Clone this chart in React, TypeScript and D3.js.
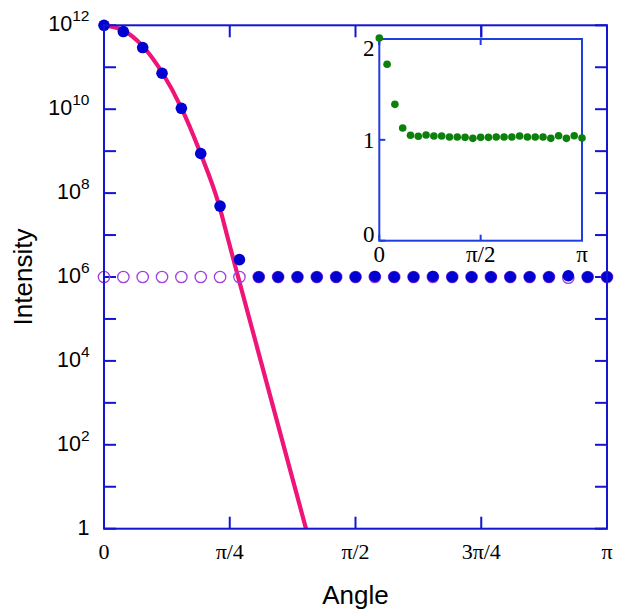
import React from "react";
import * as d3 from "d3";

// ---- data ----
const angleIndex = [0,1,2,3,4,5,6,7,8,9,10,11,12,13,14,15,16,17,18,19,20,21,22,23,24,25,26];
const angleStep = Math.PI / 26;

// measured intensity (filled blue)
const measured = [1e12, 7.1e11, 2.95e11, 7.2e10, 1.05e10, 8.8e8, 4.9e7, 2.6e6, 1.0e6, 1.0e6, 1.0e6,
  1.0e6, 1.0e6, 1.0e6, 1.03e6, 1.0e6, 1.0e6, 1.03e6, 1.0e6, 1.0e6, 1.0e6, 1.0e6, 1.0e6, 1.0e6,
  1.07e6, 1.0e6, 1.0e6];
// background (open circles)
const background = [1e6, 1e6, 1e6, 1e6, 1e6, 1e6, 1e6, 1e6, 1e6, 1e6, 1e6, 1e6, 1e6, 1e6, 1e6, 1e6,
  1e6, 1e6, 1e6, 1e6, 1e6, 1e6, 1e6, 1e6, 0.96e6, 1e6, 1e6];
// model curve (angle in rad, intensity)
const curveAngles = [0, 0.1205, 0.2417, 0.3623, 0.4809, 0.5996, 0.7183, 0.7763, 1.2617, 1.30];
const curveValues = [1e12, 7.6e11, 3.2e11, 7.6e10, 1.12e10, 9.5e8, 5.2e7, 7.6e6, 1, 0.3];
// inset ratio
const ratio = [2.01, 1.749, 1.352, 1.117, 1.045, 1.035, 1.048, 1.038, 1.038, 1.028, 1.028, 1.025,
  1.015, 1.025, 1.025, 1.028, 1.028, 1.028, 1.038, 1.028, 1.028, 1.028, 1.015, 1.041, 1.015, 1.041, 1.018];

const xTicks = [0, Math.PI / 4, Math.PI / 2, (3 * Math.PI) / 4, Math.PI];
const xTickLabels = ["0", "π/4", "π/2", "3π/4", "π"];
const yMajorExp = [0, 2, 4, 6, 8, 10, 12];
const yAllExp = [0, 1, 2, 3, 4, 5, 6, 7, 8, 9, 10, 11, 12];
const insetXTicks = [0, Math.PI / 2, Math.PI];
const insetXLabels = ["0", "π/2", "π"];
const insetYTicks = [0, 1, 2];

const AXIS = "#1414d2";
const INSET_AXIS = "#1e3ee0";
const PINK = "#ee1478";
const BLUE = "#0000d0";
const PURPLE = "#a040e0";
const GREEN = "#0b800b";

export default function App() {
  const L = 104, R = 607, T = 25.3, B = 528.7;
  const x = d3.scaleLinear().domain([0, Math.PI]).range([L, R]);
  const y = d3.scaleLog().domain([1, 1e12]).range([B, T]);

  const iL = 379.3, iR = 582, iT = 39, iB = 240.7;
  const xi = d3.scaleLinear().domain([0, Math.PI]).range([iL, iR]);
  const yi = d3.scaleLinear().domain([0, 2]).range([iB, iT]);

  const curvePts = curveAngles.map((a, i) => [a, curveValues[i]] as [number, number]);
  const line = d3
    .line<[number, number]>()
    .x((d) => x(d[0]))
    .y((d) => y(d[1]))
    .curve(d3.curveMonotoneX);

  const angles = angleIndex.map((i) => i * angleStep);
  const sans = "'Liberation Sans', Arial, Helvetica, sans-serif";
  const serif = "'Liberation Serif', 'Times New Roman', serif";
  const tick = 12;
  const insetLabelDy = [1, 8.5, 17];

  return (
    <svg width={617} height={609} style={{ position: "absolute", left: 0, top: 0 }}>
      <defs>
        <clipPath id="plotclip">
          <rect x={L} y={T - 10} width={R - L + 10} height={B - T + 10} />
        </clipPath>
      </defs>
      <rect x={0} y={0} width={617} height={609} fill="#fff" />

      {/* main ticks */}
      {yAllExp.map((e) => (
        <g key={"yt" + e}>
          <line x1={L} x2={L + tick} y1={y(Math.pow(10, e))} y2={y(Math.pow(10, e))} stroke={AXIS} strokeWidth={2} />
          <line x1={R} x2={R - tick} y1={y(Math.pow(10, e))} y2={y(Math.pow(10, e))} stroke={AXIS} strokeWidth={2} />
        </g>
      ))}
      {xTicks.map((t, i) => (
        <g key={"xt" + i}>
          <line x1={x(t)} x2={x(t)} y1={B} y2={B - tick} stroke={AXIS} strokeWidth={2} />
          <line x1={x(t)} x2={x(t)} y1={T} y2={T + tick} stroke={AXIS} strokeWidth={2} />
        </g>
      ))}

      {/* curve */}
      <path d={line(curvePts) || ""} fill="none" stroke={PINK} strokeWidth={4.2} clipPath="url(#plotclip)" />

      {/* background open circles */}
      {angles.map((a, i) => (
        <circle key={"bg" + i} cx={x(a)} cy={y(background[i])} r={5.7} fill="none" stroke={PURPLE} strokeWidth={1.3} />
      ))}
      {/* measured */}
      {angles.map((a, i) =>
        i === 0 || measured[i] > 1.5e6 || i >= 8 ? (
          <circle key={"m" + i} cx={x(a)} cy={y(measured[i])} r={5.8} fill={BLUE} />
        ) : null
      )}

      {/* frame */}
      <rect x={L} y={T} width={R - L} height={B - T} fill="none" stroke={AXIS} strokeWidth={2} />

      {/* y labels */}
      {yMajorExp.map((e) => (
        <text key={"yl" + e} x={89.5} y={y(Math.pow(10, e)) + 6} textAnchor="end" fontFamily={sans} fontSize={21.5} fill="#000">
          {e === 0 ? (
            "1"
          ) : (
            <>
              10
              <tspan fontSize={15.5} dy={-10}>
                {e}
              </tspan>
            </>
          )}
        </text>
      ))}
      {/* x labels */}
      {xTicks.map((t, i) => (
        <text key={"xl" + i} x={x(t)} y={559} textAnchor="middle" fontFamily={serif} fontSize={22} fill="#000">
          {xTickLabels[i]}
        </text>
      ))}
      <text x={(L + R) / 2} y={603.5} textAnchor="middle" fontFamily={sans} fontSize={26} fill="#000">
        Angle
      </text>
      <text
        transform={`translate(31.5, ${(T + B) / 2}) rotate(-90)`}
        textAnchor="middle"
        fontFamily={sans}
        fontSize={26}
        fill="#000"
      >
        Intensity
      </text>

      {/* inset */}
      <rect x={iL} y={iT} width={iR - iL} height={iB - iT} fill="#fff" stroke={INSET_AXIS} strokeWidth={2} />
      {insetYTicks.map((t) => (
        <line key={"iyt" + t} x1={iL} x2={iL + 6} y1={yi(t)} y2={yi(t)} stroke={INSET_AXIS} strokeWidth={2} />
      ))}
      {insetXTicks.map((t, i) => (
        <g key={"ixt" + i}>
          <line x1={xi(t)} x2={xi(t)} y1={iB} y2={iB - 6} stroke={INSET_AXIS} strokeWidth={2} />
          <line x1={xi(t)} x2={xi(t)} y1={iT} y2={iT + 6} stroke={INSET_AXIS} strokeWidth={2} />
        </g>
      ))}
      {/* main top tick overlapping inset at 3π/4 */}
      <line x1={x(xTicks[3])} x2={x(xTicks[3])} y1={T} y2={T + tick} stroke={AXIS} strokeWidth={2} />
      {angles.map((a, i) => (
        <circle key={"r" + i} cx={xi(a)} cy={yi(ratio[i])} r={3.8} fill={GREEN} />
      ))}
      {insetYTicks.map((t, i) => (
        <text key={"iyl" + t} x={374.5} y={yi(t) + insetLabelDy[i]} textAnchor="end" fontFamily={serif} fontSize={23} fill="#000">
          {t}
        </text>
      ))}
      {insetXTicks.map((t, i) => (
        <text key={"ixl" + i} x={xi(t)} y={262} textAnchor="middle" fontFamily={serif} fontSize={23} fill="#000">
          {insetXLabels[i]}
        </text>
      ))}
    </svg>
  );
}
